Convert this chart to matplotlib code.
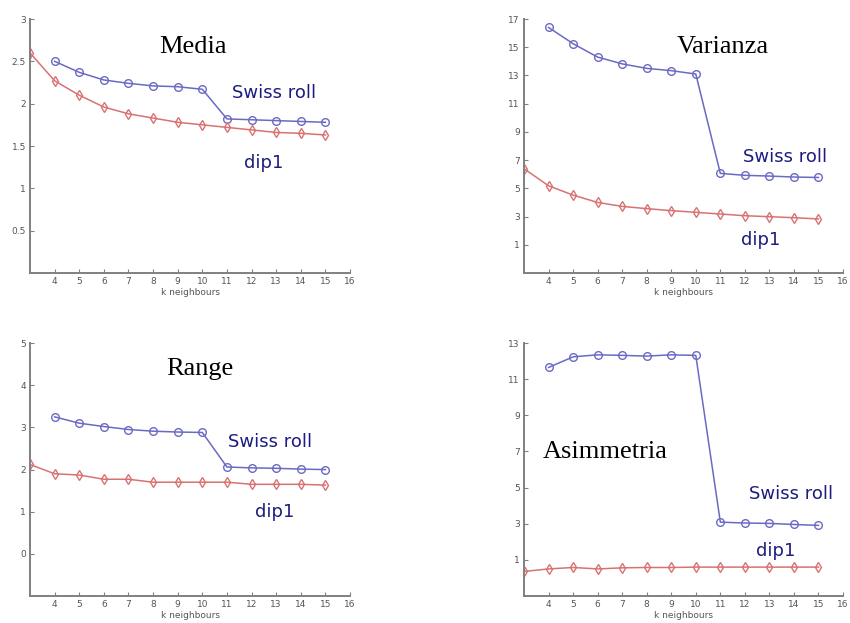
import numpy as np
import matplotlib
matplotlib.use('Agg')
import matplotlib.pyplot as plt

# k values
k_swiss = [4, 5, 6, 7, 8, 9, 10, 11, 12, 13, 14, 15]
k_dip = [3, 4, 5, 6, 7, 8, 9, 10, 11, 12, 13, 14, 15]

# Media
media_swiss = [2.50, 2.37, 2.28, 2.24, 2.21, 2.20, 2.17, 1.82, 1.81, 1.80, 1.79, 1.78]
media_dip = [2.60, 2.27, 2.10, 1.96, 1.88, 1.83, 1.78, 1.75, 1.72, 1.69, 1.66, 1.65, 1.63]

# Varianza
var_swiss = [16.4, 15.25, 14.3, 13.82, 13.5, 13.34, 13.1, 6.06, 5.92, 5.87, 5.80, 5.77]
var_dip = [6.39, 5.18, 4.52, 4.0, 3.72, 3.56, 3.42, 3.30, 3.18, 3.06, 2.99, 2.92, 2.83]

# Range
range_swiss = [3.25, 3.10, 3.02, 2.95, 2.91, 2.89, 2.88, 2.06, 2.04, 2.03, 2.01, 2.00]
range_dip = [2.12, 1.90, 1.87, 1.77, 1.77, 1.70, 1.70, 1.70, 1.70, 1.65, 1.65, 1.65, 1.63]

# Asimmetria
asim_swiss = [11.65, 12.24, 12.35, 12.32, 12.28, 12.35, 12.32, 3.09, 3.04, 3.02, 2.96, 2.91]
asim_dip = [0.36, 0.50, 0.58, 0.50, 0.56, 0.58, 0.58, 0.60, 0.60, 0.60, 0.60, 0.60, 0.60]

titles = ['Media', 'Varianza', 'Range', 'Asimmetria']
ylims = [(0, 3), (-1, 17), (-1, 5), (-1, 13)]
yticks = [[0.5, 1, 1.5, 2, 2.5, 3], list(range(1, 18, 2)), [0, 1, 2, 3, 4, 5], list(range(1, 14, 2))]
title_pos = [(9.64, 2.67), (11.1, 15.0), (9.89, 4.38), (6.3, 6.95)]
swiss_pos = [(12.9, 2.13), (13.62, 7.23), (12.76, 2.65), (13.9, 4.62)]
dip_pos = [(12.51, 1.30), (12.65, 1.36), (12.92, 0.99), (13.25, 1.47)]

boxes = [[0.0353, 0.5618, 0.3765, 0.4077],
         [0.6165, 0.5618, 0.3753, 0.4077],
         [0.0353, 0.0433, 0.3765, 0.406],
         [0.6165, 0.0433, 0.3753, 0.406]]

swiss_data = [media_swiss, var_swiss, range_swiss, asim_swiss]
dip_data = [media_dip, var_dip, range_dip, asim_dip]

blue = '#6a6ac4'
red = '#d87272'
navy = '#1c1c80'
gray = '#808080'

fig = plt.figure(figsize=(8.5, 6.23), dpi=100)

for i in range(4):
    ax = fig.add_axes(boxes[i])
    ax.plot(k_swiss, swiss_data[i], color=blue, marker='o', mfc='none', mec=blue,
            ms=5.5, lw=1.1, mew=1.0)
    ax.plot(k_dip, dip_data[i], color=red, marker='d', mfc='none', mec=red,
            ms=5.5, lw=1.1, mew=1.0)
    ax.set_xlim(3, 16)
    ax.set_ylim(*ylims[i])
    ax.set_xticks(range(4, 17))
    ax.set_yticks(yticks[i])
    ax.set_yticklabels([('%g' % v) for v in yticks[i]])
    for s in ['top', 'right']:
        ax.spines[s].set_visible(False)
    for s in ['left', 'bottom']:
        ax.spines[s].set_color(gray)
        ax.spines[s].set_linewidth(1.4)
    ax.tick_params(direction='in', length=3, width=0.8, colors=gray,
                   labelsize=6.5, labelcolor='#555555', pad=3)
    ax.set_xlabel('k neighbours', fontsize=6.5, color='#555555', labelpad=1)
    ax.text(title_pos[i][0], title_pos[i][1], titles[i], fontsize=19,
            family='Liberation Serif', ha='center', va='center', color='black')
    ax.text(swiss_pos[i][0], swiss_pos[i][1], 'Swiss roll', fontsize=13,
            ha='center', va='center', color=navy)
    ax.text(dip_pos[i][0], dip_pos[i][1], 'dip1', fontsize=13,
            ha='center', va='center', color=navy)

plt.savefig('out.png', dpi=100)
